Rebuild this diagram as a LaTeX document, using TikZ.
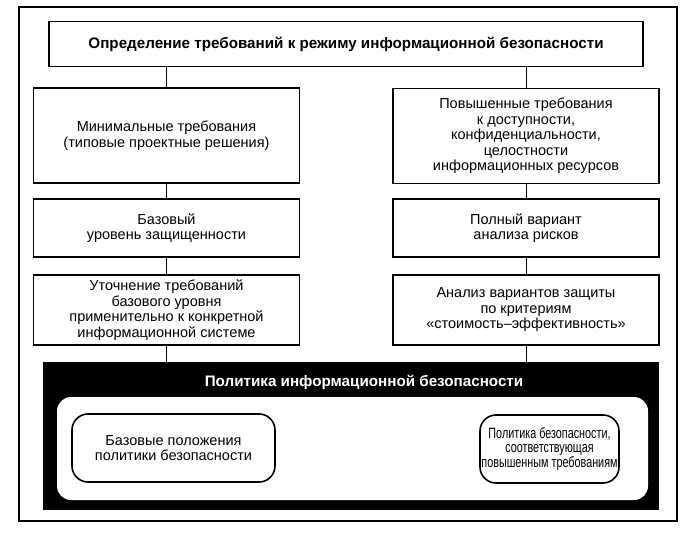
\documentclass[tikz,border=0pt]{standalone}
\usepackage{fontspec}
\setmainfont{Liberation Sans}
\newfontfamily\condfont[FakeStretch=0.72]{Liberation Sans}
\begin{document}
\begin{tikzpicture}[x=1pt,y=-1pt,
  box/.style={draw=black,line width=1.6pt,fill=white,align=center,inner sep=0pt,
    font=\fontsize{14.5}{15.5}\selectfont},
  rbox/.style={box,rounded corners=16pt},
  boldtext/.style={font=\bfseries\fontsize{15.2}{17}\selectfont},
  conn/.style={line width=1pt,draw=black}]
\useasboundingbox (0,0) rectangle (694,535);
\draw[line width=1.2pt] (19,7) rectangle (677,521);
% top
\node[box,boldtext,minimum width=594pt,minimum height=45pt] (top) at (346,44)
  {Определение требований к режиму информационной безопасности};
% left column
\node[box,minimum width=266pt,minimum height=95pt] (l1) at (166.5,135.5)
  {Минимальные требования\\(типовые проектные решения)};
\node[box,minimum width=266pt,minimum height=58pt] (l2) at (166.5,228)
  {Базовый\\уровень защищенности};
\node[box,minimum width=266pt,minimum height=70pt] (l3) at (166.5,310)
  {Уточнение требований\\базового уровня\\применительно к конкретной\\информационной системе};
% right column
\node[box,minimum width=266pt,minimum height=95pt] (r1) at (526,136)
  {Повышенные требования\\к доступности,\\конфиденциальности,\\целостности\\информационных ресурсов};
\node[box,minimum width=266pt,minimum height=58pt] (r2) at (526,228)
  {Полный вариант\\анализа рисков};
\node[box,minimum width=266pt,minimum height=70pt] (r3) at (526,310)
  {Анализ вариантов защиты\\по критериям\\«стоимость–эффективность»};
% policy block
\node[fill=black,draw=none,minimum width=616pt,minimum height=148pt,inner sep=0pt] (pol) at (351,436) {};
\node[text=white,boldtext] (poltitle) at (364,382)
  {Политика информационной безопасности};
\node[fill=white,draw=none,rounded corners=14pt,minimum width=591pt,minimum height=103pt,inner sep=0pt] (inner) at (352.5,448.5) {};
\node[rbox,minimum width=203pt,minimum height=68pt] (p1) at (173.5,448)
  {Базовые положения\\политики безопасности};
\node[rbox,minimum width=139pt,minimum height=68pt,font=\condfont\fontsize{15}{14.5}\selectfont] (p2) at (549.5,449)
  {Политика безопасности,\\соответствующая\\повышенным требованиям};
% connectors
\draw[conn] (l1.north |- top.south) -- (l1.north);
\draw[conn] (r1.north |- top.south) -- (r1.north);
\draw[conn] (l1) -- (l2);
\draw[conn] (l2) -- (l3);
\draw[conn] (r1) -- (r2);
\draw[conn] (r2) -- (r3);
\draw[conn] (l3.south) -- (l3.south |- pol.north);
\draw[conn] (r3.south) -- (r3.south |- pol.north);
\end{tikzpicture}
\end{document}
